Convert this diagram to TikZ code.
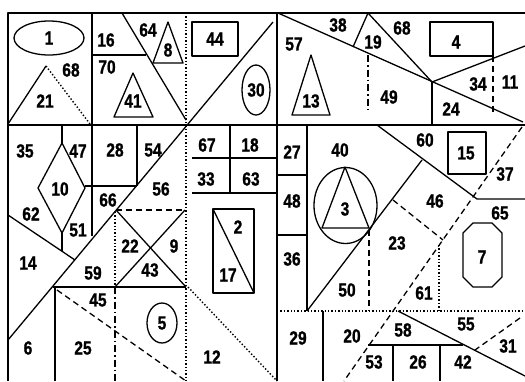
\documentclass[tikz,border=0pt]{standalone}
\usepackage{fontspec}
\setmainfont{Liberation Sans}
\newfontfamily\numfont{Liberation Sans}[FakeStretch=0.82,FakeBold=1]
\usepackage{tikz}

\begin{document}
\begin{tikzpicture}[
  x=1pt, y=-1pt,
  line width=1.3pt, line join=round,
  num/.style={inner sep=0pt, font=\numfont\bfseries\fontsize{19}{19}\selectfont},
  dot/.style={dotted, line width=1.4pt},
  dsh/.style={dash pattern=on 6pt off 4pt},
  dshdot/.style={dash pattern=on 7pt off 3pt on 1.5pt off 3pt}
]
\useasboundingbox (0,0) rectangle (525,381);
% frame and main dividers
\draw (8,381) -- (8,13) -- (525,13);
\draw (8,125) -- (525,125);
\draw (92,13) -- (92,125);
\draw (277,13) -- (277,381);
\draw[dot] (186,13) -- (186,381);
\draw (273,22) -- (8,340);
% top left
\draw (49,38) ellipse (35 and 17);
\draw (8,124) -- (46,66);
\draw[dot] (46,66) -- (90,124);
\draw (92,55) -- (146,55);
\draw (122,13) -- (186,120);
\draw (168,22) -- (153,63) -- (183,63) -- cycle;
\draw (133,73) -- (114,117) -- (153,117) -- cycle;
% top middle
\draw (192,22) rectangle (238,56);
\draw (256,90) ellipse (14 and 25);
\draw (311,55) -- (292,115) -- (330,115) -- cycle;
% top right
\draw (278,13) -- (523,122);
\draw (353,47) -- (368,13) -- (432,82);
\draw (432,82) -- (432,125);
\draw (432,82) -- (525,46);
\draw (430,22) rectangle (493,56);
\draw[dsh] (493,56) -- (493,112);
\draw[dshdot] (368,55) -- (368,112);
% middle left
\draw (62,125) -- (62,143);
\draw (62,143) -- (38,188) -- (62,233) -- (85,188) -- cycle;
\draw (62,233) -- (62,251);
\draw (8,215) -- (75,260);
\draw (92,125) -- (92,236);
\draw (85,186) -- (137,186);
\draw (137,125) -- (137,186);
\draw[dsh] (116,210) -- (185,210);
\draw (116,210) -- (186,287);
\draw (185,210) -- (115,287);
\draw[dot] (115,212) -- (115,285);
\draw (53,287) -- (186,287);
% bottom left
\draw (55,287) -- (55,381);
\draw[dshdot] (115,287) -- (115,381);
\draw[dsh] (57,290) -- (186,381);
\draw (162,323) ellipse (15 and 20);
\draw[dot] (188,287) -- (277,381);
% middle
\draw (192,158) -- (277,158);
\draw (192,193) -- (277,193);
\draw (230,125) -- (230,193);
\draw (213,209) rectangle (254,293);
\draw (213,209) -- (254,293);
\draw (307,125) -- (307,311);
\draw (277,175) -- (307,175);
\draw (277,235) -- (307,235);
% middle right
\draw (345.5,205.5) ellipse (31.5 and 38);
\draw (345,167) -- (322,228) -- (369,228) -- cycle;
\draw (307,311) -- (422,160);
\draw (377,125) -- (477,199) -- (525,199);
\draw (448,132) rectangle (486,174);
\draw[dsh] (393,200) -- (443,240);
\draw[dsh] (522,127) -- (344,381);
\draw[dsh] (369,230) -- (369,311);
\draw[dot] (439,245) -- (439,311);
\draw (473,223) -- (492,223) -- (502,233) -- (502,277) -- (492,287)
  -- (473,287) -- (463,277) -- (463,233) -- cycle;
% bottom right
\draw[dot] (277,311) -- (525,311);
\draw (323,311) -- (323,381);
\draw (398,311) -- (525,376);
\draw (368,345) -- (463,345);
\draw (393,345) -- (393,381);
\draw (440,345) -- (440,381);
\draw[dsh] (520,318) -- (475,350);
% labels
\node[num] (n1) at (49,38) {1};
\node[num] (n16) at (106,40) {16};
\node[num] (n64) at (148,30) {64};
\node[num] (n8) at (168,50) {8};
\node[num] (n68a) at (71,70) {68};
\node[num] (n70) at (107,67) {70};
\node[num] (n41) at (133,101) {41};
\node[num] (n21) at (45,101) {21};
\node[num] (n44) at (215,39) {44};
\node[num] (n30) at (256,90) {30};
\node[num] (n57) at (294,44) {57};
\node[num] (n38) at (338,25) {38};
\node[num] (n13) at (311,101) {13};
\node[num] (n19) at (373,42) {19};
\node[num] (n68b) at (402,28) {68};
\node[num] (n4) at (456,42) {4};
\node[num] (n49) at (389,97) {49};
\node[num] (n34) at (478,84) {34};
\node[num] (n11) at (510,82) {11};
\node[num] (n24) at (451,109) {24};
\node[num] (n35) at (25,151) {35};
\node[num] (n47) at (78,151) {47};
\node[num] (n28) at (115,150) {28};
\node[num] (n54) at (153,150) {54};
\node[num] (n10) at (60,189) {10};
\node[num] (n62) at (31,214) {62};
\node[num] (n51) at (78,230) {51};
\node[num] (n66) at (108,200) {66};
\node[num] (n56) at (161,189) {56};
\node[num] (n22) at (130,246) {22};
\node[num] (n9) at (174,246) {9};
\node[num] (n43) at (150,270) {43};
\node[num] (n14) at (28,263) {14};
\node[num] (n59) at (93,273) {59};
\node[num] (n45) at (98,300) {45};
\node[num] (n6) at (28,348) {6};
\node[num] (n25) at (83,348) {25};
\node[num] (n5) at (162,323) {5};
\node[num] (n12) at (212,357) {12};
\node[num] (n67) at (207,145) {67};
\node[num] (n18) at (250,145) {18};
\node[num] (n33) at (206,179) {33};
\node[num] (n63) at (251,179) {63};
\node[num] (n2) at (238,227) {2};
\node[num] (n17) at (228,275) {17};
\node[num] (n27) at (292,152) {27};
\node[num] (n48) at (292,201) {48};
\node[num] (n36) at (292,259) {36};
\node[num] (n40) at (340,150) {40};
\node[num] (n3) at (345,209) {3};
\node[num] (n60) at (425,140) {60};
\node[num] (n15) at (466,153) {15};
\node[num] (n37) at (505,174) {37};
\node[num] (n46) at (435,201) {46};
\node[num] (n65) at (500,213) {65};
\node[num] (n23) at (397,243) {23};
\node[num] (n7) at (482,257) {7};
\node[num] (n50) at (347,290) {50};
\node[num] (n61) at (424,293) {61};
\node[num] (n29) at (298,338) {29};
\node[num] (n20) at (352,336) {20};
\node[num] (n58) at (403,330) {58};
\node[num] (n55) at (466,324) {55};
\node[num] (n31) at (508,346) {31};
\node[num] (n53) at (374,362) {53};
\node[num] (n26) at (418,362) {26};
\node[num] (n42) at (463,362) {42};
\end{tikzpicture}
\end{document}
